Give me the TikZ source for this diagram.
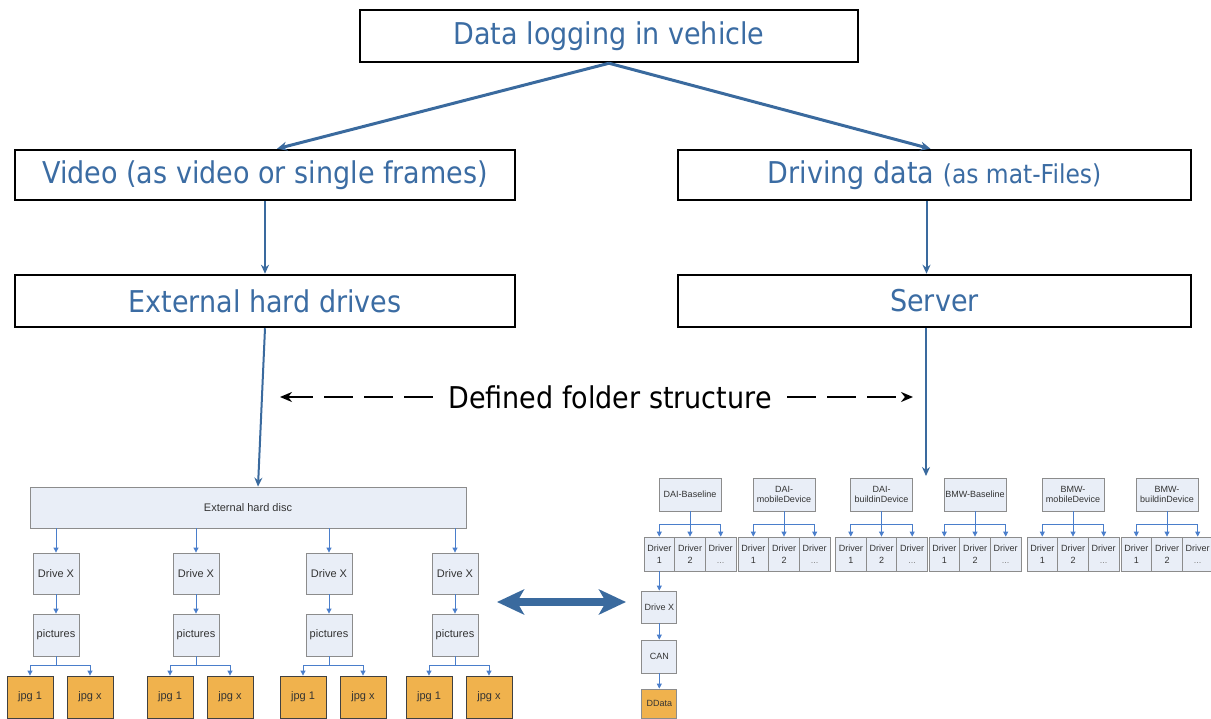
\documentclass[tikz,border=0pt]{standalone}
\usepackage{fontspec}
\setmainfont[FakeStretch=0.9]{DejaVu Sans}
\newfontfamily\boxfont{Liberation Sans}
\usetikzlibrary{arrows.meta, positioning, calc}

\definecolor{titleblue}{HTML}{3B6CA3}
\definecolor{linkblue}{HTML}{3A6A9E}
\definecolor{treeblue}{HTML}{4A7ECB}
\definecolor{boxfill}{HTML}{E9EEF7}
\definecolor{boxline}{HTML}{8C8C8C}
\definecolor{filefill}{HTML}{F0B24D}

\begin{document}
\begin{tikzpicture}[x=1pt, y=-1pt,
    head/.style={draw=black, line width=2.5pt, fill=white, inner sep=0pt, text=titleblue, font=\fontsize{30}{30}\selectfont},
    folder/.style={draw=boxline, line width=0.8pt, fill=boxfill, inner sep=1pt, align=center, text=black!80, font=\boxfont\fontsize{11}{12}\selectfont},
    cat/.style={folder, minimum width=62pt, minimum height=33pt, font=\boxfont\fontsize{9}{10.5}\selectfont},
    cell/.style={folder, minimum width=30.7pt, minimum height=34pt, font=\boxfont\fontsize{9}{12}\selectfont},
    file/.style={folder, fill=filefill, draw=black!75, minimum width=46pt, minimum height=42pt},
    bigarrow/.style={draw=linkblue, line width=3pt, -{Stealth[length=10pt,width=9pt]}},
    midarrow/.style={draw=linkblue, line width=2pt, -{Stealth[length=9pt,width=8pt]}},
    treearrow/.style={draw=treeblue, line width=0.8pt, -{Triangle[length=5pt,width=5pt]}},
    dasharrow/.style={draw=black, line width=2.6pt, dash pattern=on 29pt off 11pt, -{Stealth[length=12pt,width=10pt]}},
  ]
  \useasboundingbox (0,0) rectangle (1211,719);

  % upper part
  \node[head, minimum width=498pt, minimum height=52pt] (logging) at (609,36) {Data logging in vehicle};
  \node[head, minimum width=500pt, minimum height=50pt] (video) at (265,175) {Video (as video or single frames)};
  \node[head, minimum width=513pt, minimum height=50pt] (driving) at (934.5,175) {Driving data {\fontsize{26}{26}\selectfont(as mat-Files)}};
  \node[head, minimum width=500pt, minimum height=52pt] (extdrives) at (265,301) {External hard drives};
  \node[head, minimum width=513pt, minimum height=52pt] (server) at (934.5,301) {Server};

  \draw[bigarrow] (logging.south) -- ([xshift=12pt]video.north);
  \draw[bigarrow] (logging.south) -- ([xshift=-4pt]driving.north);
  \draw[midarrow] (video) -- (extdrives);
  \draw[midarrow] ([xshift=-8pt]driving.south) -- ([xshift=-8pt]server.north);

  \node[font=\fontsize{30}{30}\selectfont] (struct) at (610,397) {Defined folder structure};
  \coordinate (structL) at (280,397);
  \coordinate (structR) at (913,397);
  \draw[dasharrow] ([xshift=-12pt]struct.west) -- (structL);
  \draw[dasharrow] ([xshift=12pt]struct.east) -- (structR);

  % video side
  \node[folder, minimum width=436pt, minimum height=41pt] (disc) at (248,507.5) {External hard disc};
  \draw[midarrow] (extdrives.south) -- ([xshift=10pt]disc.north);
  \foreach \x [count=\i] in {56,196,329,455} {
    \node[folder, minimum width=46pt, minimum height=41pt] (drive\i) at (\x,573.5) {Drive X};
    \node[folder, minimum width=46pt, minimum height=42pt] (pics\i) at (\x,635) {pictures};
    \node[file] (jpga\i) at (\x-26,697) {jpg 1};
    \node[file] (jpgb\i) at (\x+34,697) {jpg x};
    \draw[treearrow] (disc.south -| drive\i) -- (drive\i);
    \draw[treearrow] (drive\i) -- (pics\i);
    \draw[treearrow] (pics\i.south) -- ++(0,9) -| (jpga\i.north);
    \draw[treearrow] (pics\i.south) -- ++(0,9) -| (jpgb\i.north);
  }

  % server side
  \coordinate (srvend) at (926,476);
  \draw[midarrow] (server.south -| srvend) -- (srvend);
  \foreach \x/\name [count=\i] in {690/DAI-Baseline, 784/{DAI-\\mobileDevice}, 881.5/{DAI-\\buildinDevice},
      975/BMW-Baseline, 1073/{BMW-\\mobileDevice}, 1167/{BMW-\\buildinDevice}} {
    \node[cat] (cat\i) at (\x,494.5) {\name};
    \node[cell] (drvA\i) at (\x-30.7,554) {Driver\\1};
    \node[cell] (drvB\i) at (\x,554) {Driver\\2};
    \node[cell] (drvC\i) at (\x+30.7,554) {Driver\\\textcolor{black!50}{...}};
    \draw[treearrow] (cat\i) -- (drvB\i);
    \draw[treearrow] (cat\i.south) -- ++(0,13) -| (drvA\i.north);
    \draw[treearrow] (cat\i.south) -- ++(0,13) -| (drvC\i.north);
  }
  \node[folder, minimum width=35pt, minimum height=32pt, font=\boxfont\fontsize{9}{10}\selectfont] (rdrive) at (659.3,607) {Drive X};
  \node[folder, minimum width=35pt, minimum height=33pt, font=\boxfont\fontsize{9}{10}\selectfont] (can) at (659.3,656.5) {CAN};
  \node[file, minimum width=35pt, minimum height=29pt, draw=boxline, font=\boxfont\fontsize{9}{10}\selectfont] (ddata) at (659.3,703.5) {DData};
  \draw[treearrow] (drvA1) -- (rdrive);
  \draw[treearrow] (rdrive) -- (can);
  \draw[treearrow] (can) -- (ddata);

  % link between both structures
  \coordinate (swapL) at (497,602);
  \coordinate (swapR) at (626,602);
  \draw[linkblue, line width=8pt, {Stealth[length=27pt,width=25pt,inset=7pt]}-{Stealth[length=27pt,width=25pt,inset=7pt]}] (swapL) -- (swapR);
\end{tikzpicture}
\end{document}
